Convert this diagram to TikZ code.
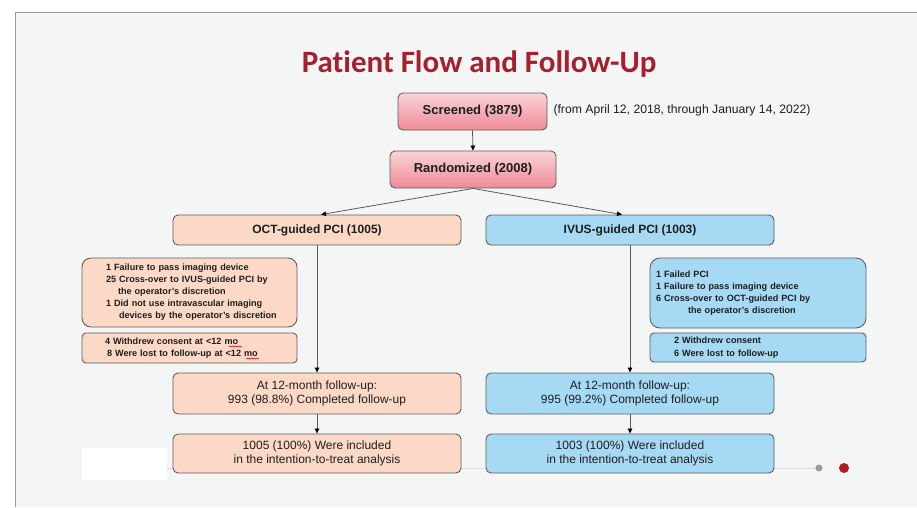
\documentclass[tikz,border=0pt]{standalone}
\usepackage{fontspec}
\setmainfont{Liberation Sans}
\newfontfamily\titlefont[Ligatures={NoCommon}]{Carlito}
\usetikzlibrary{arrows.meta,calc,decorations.pathmorphing}
\definecolor{bgGray}{HTML}{F4F5F5}
\definecolor{frameGray}{HTML}{9A9A9A}
\definecolor{titleRed}{HTML}{A51F2D}
\definecolor{pinkT}{HTML}{FAD3D8}
\definecolor{pinkB}{HTML}{EE8B97}
\definecolor{peach}{HTML}{FBD9C6}
\definecolor{sky}{HTML}{A6D9F4}
\definecolor{boxLine}{HTML}{5E5E5E}
\definecolor{lineGray}{HTML}{5A5A5A}
\definecolor{txt}{HTML}{1E1E1E}
\definecolor{faint}{HTML}{DCDCDC}
\definecolor{dotGray}{HTML}{9A9A9A}
\definecolor{dotRed}{HTML}{B01C22}
\hyphenpenalty=10000
\exhyphenpenalty=10000
\begin{document}
\begin{tikzpicture}[x=1pt,y=-1pt,
  box/.style={draw=boxLine, line width=0.9pt, rounded corners=5pt, align=center, inner sep=0pt, text=txt},
  pinkbox/.style={box, top color=pinkT, bottom color=pinkB, font=\bfseries\fontsize{13}{15}\selectfont},
  headbox/.style={box, minimum width=288pt, minimum height=30pt, font=\bfseries\fontsize{12}{14}\selectfont},
  resbox/.style={box, minimum width=288pt, font=\fontsize{12}{14.5}\selectfont},
  exbox/.style={box, align=left, inner ysep=0pt, font=\bfseries\fontsize{9.1}{12}\selectfont},
  arr/.style={draw=lineGray, line width=0.8pt, -{Triangle[length=5pt,width=4.5pt,color=black]}},
  squig/.style={draw=red!80!black, line width=0.5pt, decorate, decoration={snake, amplitude=0.6pt, segment length=2.5pt}}
]
\useasboundingbox (0,0) rectangle (917,507);
% slide background
\fill[white] (0,0) rectangle (917,507);
\fill[bgGray] (15,12) rectangle (917,507);
\draw[frameGray, line width=0.8pt] (15,507) -- (15,12) -- (917,12);
\fill[white] (82,448) rectangle (167,480);
\draw[faint, line width=0.8pt] (167,468) -- (817,468);
\fill[dotGray] (819,468) circle (3.5);
\fill[dotRed] (844,468) circle (5);

% title
\node[font=\titlefont\bfseries\fontsize{31}{36}\selectfont, text=titleRed] (title) at (479,64) {Patient Flow and Follow-Up};

% top boxes
\node[pinkbox, minimum width=149pt, minimum height=37pt] (scr) at (472.5,111.5) {Screened (3879)};
\node[anchor=west, font=\fontsize{12.2}{14}\selectfont, text=txt] (dates) at (550,110) {(from April 12, 2018, through January 14, 2022)};
\node[pinkbox, minimum width=166pt, minimum height=37pt] (rand) at (473,169.5) {Randomized (2008)};

% arms
\node[headbox, fill=peach] (oct) at (317,230) {OCT-guided PCI (1005)};
\node[headbox, fill=sky] (ivus) at (630,230) {IVUS-guided PCI (1003)};

% exclusions OCT
\node[exbox, fill=peach, rounded corners=9pt, text width=167pt, inner xsep=24pt, minimum height=69pt] (oex1) at (189.5,292.5)
 {1 Failure to pass imaging device\\
  25 Cross-over to IVUS-guided PCI by\\
  \hspace*{12pt}the operator's discretion\\
  1 Did not use intravascular imaging\\
  \mbox{\hspace*{13pt}devices by the operator's discretion}};
\node[exbox, fill=peach, rounded corners=4pt, text width=191pt, inner xsep=12pt, minimum height=30pt, font=\bfseries\fontsize{9.1}{11.5}\selectfont] (oex2) at (189.5,348)
 {\hspace*{11pt}4 Withdrew consent at <12 mo\\
  \hspace*{13pt}8 Were lost to follow-up at <12 mo};

% exclusions IVUS
\node[exbox, fill=sky, rounded corners=10pt, text width=204pt, inner xsep=6pt, minimum height=70pt] (iex1) at (758,293)
 {1 Failed PCI\\
  1 Failure to pass imaging device\\
  6 Cross-over to OCT-guided PCI by\\
  \hspace*{32pt}the operator's discretion};
\node[exbox, fill=sky, rounded corners=4pt, text width=192pt, inner xsep=12pt, minimum height=29pt, font=\bfseries\fontsize{9.1}{12.5}\selectfont] (iex2) at (758,347.5)
 {\hspace*{12pt}2 Withdrew consent\\
  \hspace*{12pt}6 Were lost to follow-up};

% results
\node[resbox, fill=peach, minimum height=41pt] (o12) at (317,393.5) {At 12-month follow-up:\\993 (98.8\%) Completed follow-up};
\node[resbox, fill=sky, minimum height=41pt] (i12) at (630,393.5) {At 12-month follow-up:\\995 (99.2\%) Completed follow-up};
\node[resbox, fill=peach, minimum height=39pt, font=\fontsize{12}{13.5}\selectfont] (oitt) at (317,453.5) {1005 (100\%) Were included\\in the intention-to-treat analysis};
\node[resbox, fill=sky, minimum height=39pt, font=\fontsize{12}{13.5}\selectfont] (iitt) at (630,453.5) {1003 (100\%) Were included\\in the intention-to-treat analysis};

% connectors
\draw[arr] (scr.south) -- (rand.north);
\draw[arr] (rand.south) -- ($(oct.north)+(4,0)$);
\draw[arr] (rand.south) -- ($(ivus.north)+(-8,0)$);
\draw[arr] (oct.south) -- (o12.north);
\draw[arr] (ivus.south) -- (i12.north);
\draw[arr] (o12.south) -- (oitt.north);
\draw[arr] (i12.south) -- (iitt.north);

% spell-check squiggles under "mo"
\draw[squig] (229,346.5) -- (242,346.5);
\draw[squig] (246,358.5) -- (259,358.5);
\end{tikzpicture}
\end{document}
